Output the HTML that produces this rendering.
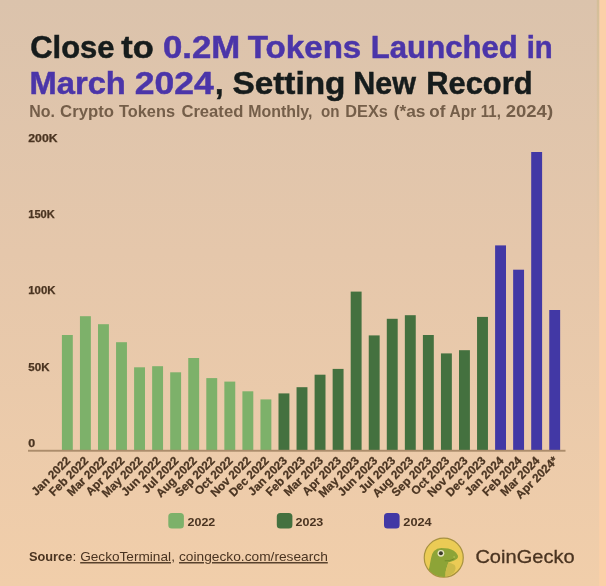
<!DOCTYPE html>
<html><head><meta charset="utf-8"><title>Tokens Launched</title>
<style>
html,body{margin:0;padding:0;}
body{width:606px;height:586px;overflow:hidden;background:#fbd0a8;font-family:"Liberation Sans",sans-serif;}
svg{display:block;font-family:"Liberation Sans",sans-serif;}
.t{font-weight:700;font-size:31.8px;fill:#161c1c;stroke:#161c1c;stroke-width:0.5px;}
.t.p{fill:#4b35a9;stroke:#4b35a9;}
.st{font-weight:700;font-size:16.1px;fill:#745e49;}
.yl{font-weight:700;font-size:10.4px;fill:#4a3421;stroke:#4a3421;stroke-width:0.25px;}
.xl{font-weight:700;font-size:11.7px;fill:#4a3421;stroke:#4a3421;stroke-width:0.25px;}
.lg{font-weight:700;font-size:11.5px;fill:#4a3421;}
.src{font-size:13.6px;fill:#4a3421;}
.cg{font-size:19.2px;fill:#4a3421;stroke:#4a3421;stroke-width:0.3px;}
</style></head><body>
<svg width="606" height="586" viewBox="0 0 606 586">
<defs>
<linearGradient id="bg" x1="0" y1="0" x2="0" y2="1">
<stop offset="0" stop-color="#dbc3ac"/><stop offset="0.43" stop-color="#e5c7ab"/><stop offset="1" stop-color="#f1ceaa"/>
</linearGradient>
<linearGradient id="vl" x1="0" y1="0" x2="0" y2="1"><stop offset="0" stop-color="#d3be97" stop-opacity="0.9"/><stop offset="1" stop-color="#e0c6a0" stop-opacity="0"/></linearGradient>
<clipPath id="cc"><circle cx="443.75" cy="557.3" r="19.2"/></clipPath>
</defs>
<rect x="0" y="0" width="606" height="586" fill="#fbd0a8"/>
<rect x="0" y="0" width="599.2" height="586" fill="url(#bg)"/>
<rect x="596.8" y="0" width="2.4" height="320" fill="url(#vl)"/>
<text x="30.2" y="58.4" class="t" textLength="84.4" lengthAdjust="spacingAndGlyphs">Close</text>
<text x="121.3" y="58.4" class="t" textLength="32.5" lengthAdjust="spacingAndGlyphs">to</text>
<text x="163.0" y="58.4" class="t p" textLength="77.3" lengthAdjust="spacingAndGlyphs">0.2M</text>
<text x="247.8" y="58.4" class="t p" textLength="113.5" lengthAdjust="spacingAndGlyphs">Tokens</text>
<text x="370.8" y="58.4" class="t p" textLength="147.0" lengthAdjust="spacingAndGlyphs">Launched</text>
<text x="526.7" y="58.4" class="t p" textLength="26.0" lengthAdjust="spacingAndGlyphs">in</text>
<text x="29.6" y="93.7" class="t p" textLength="96.2" lengthAdjust="spacingAndGlyphs">March</text>
<text x="134.7" y="93.7" class="t p" textLength="79.0" lengthAdjust="spacingAndGlyphs">2024</text>
<text x="215.0" y="93.7" class="t" textLength="8.5" lengthAdjust="spacingAndGlyphs">,</text>
<text x="232.4" y="93.7" class="t" textLength="113.1" lengthAdjust="spacingAndGlyphs">Setting</text>
<text x="353.3" y="93.7" class="t" textLength="62.7" lengthAdjust="spacingAndGlyphs">New</text>
<text x="426.3" y="93.7" class="t" textLength="106.2" lengthAdjust="spacingAndGlyphs">Record</text>
<text x="29.3" y="116.6" class="st" textLength="25.7" lengthAdjust="spacingAndGlyphs">No.</text>
<text x="60.1" y="116.6" class="st" textLength="53.9" lengthAdjust="spacingAndGlyphs">Crypto</text>
<text x="119.0" y="116.6" class="st" textLength="56.0" lengthAdjust="spacingAndGlyphs">Tokens</text>
<text x="181.4" y="116.6" class="st" textLength="61.9" lengthAdjust="spacingAndGlyphs">Created</text>
<text x="248.2" y="116.6" class="st" textLength="64.3" lengthAdjust="spacingAndGlyphs">Monthly,</text>
<text x="321.0" y="116.6" class="st" textLength="18.5" lengthAdjust="spacingAndGlyphs">on</text>
<text x="345.3" y="116.6" class="st" textLength="42.6" lengthAdjust="spacingAndGlyphs">DEXs</text>
<text x="393.7" y="116.6" class="st" textLength="31.8" lengthAdjust="spacingAndGlyphs">(*as</text>
<text x="429.3" y="116.6" class="st" textLength="16.1" lengthAdjust="spacingAndGlyphs">of</text>
<text x="449.5" y="116.6" class="st" textLength="26.7" lengthAdjust="spacingAndGlyphs">Apr</text>
<text x="480.8" y="116.6" class="st" textLength="20.0" lengthAdjust="spacingAndGlyphs">11,</text>
<text x="505.7" y="116.6" class="st" textLength="47.4" lengthAdjust="spacingAndGlyphs">2024)</text>
<text x="28.3" y="141.9" class="yl" textLength="29.2" lengthAdjust="spacingAndGlyphs">200K</text>
<text x="28.3" y="218.1" class="yl" textLength="26.5" lengthAdjust="spacingAndGlyphs">150K</text>
<text x="28.3" y="294.3" class="yl" textLength="27.2" lengthAdjust="spacingAndGlyphs">100K</text>
<text x="28.3" y="370.5" class="yl" textLength="21.2" lengthAdjust="spacingAndGlyphs">50K</text>
<text x="28.3" y="446.7" class="yl" textLength="6.9" lengthAdjust="spacingAndGlyphs">0</text>
<rect x="61.90" y="335.0" width="10.9" height="115.5" fill="#7db16a"/>
<rect x="79.95" y="316.2" width="10.9" height="134.3" fill="#7db16a"/>
<rect x="98.00" y="324.2" width="10.9" height="126.3" fill="#7db16a"/>
<rect x="116.05" y="342.2" width="10.9" height="108.3" fill="#7db16a"/>
<rect x="134.10" y="367.3" width="10.9" height="83.2" fill="#7db16a"/>
<rect x="152.15" y="366.2" width="10.9" height="84.3" fill="#7db16a"/>
<rect x="170.20" y="372.3" width="10.9" height="78.2" fill="#7db16a"/>
<rect x="188.25" y="358.0" width="10.9" height="92.5" fill="#7db16a"/>
<rect x="206.30" y="378.1" width="10.9" height="72.4" fill="#7db16a"/>
<rect x="224.35" y="381.6" width="10.9" height="68.9" fill="#7db16a"/>
<rect x="242.40" y="391.3" width="10.9" height="59.2" fill="#7db16a"/>
<rect x="260.45" y="399.4" width="10.9" height="51.1" fill="#7db16a"/>
<rect x="278.50" y="393.4" width="10.9" height="57.1" fill="#44713f"/>
<rect x="296.55" y="387.2" width="10.9" height="63.3" fill="#44713f"/>
<rect x="314.60" y="374.7" width="10.9" height="75.8" fill="#44713f"/>
<rect x="332.65" y="368.9" width="10.9" height="81.6" fill="#44713f"/>
<rect x="350.70" y="291.6" width="10.9" height="158.9" fill="#44713f"/>
<rect x="368.75" y="335.4" width="10.9" height="115.1" fill="#44713f"/>
<rect x="386.80" y="318.8" width="10.9" height="131.7" fill="#44713f"/>
<rect x="404.85" y="315.2" width="10.9" height="135.3" fill="#44713f"/>
<rect x="422.90" y="335.0" width="10.9" height="115.5" fill="#44713f"/>
<rect x="440.95" y="353.4" width="10.9" height="97.1" fill="#44713f"/>
<rect x="459.00" y="350.2" width="10.9" height="100.3" fill="#44713f"/>
<rect x="477.05" y="316.9" width="10.9" height="133.6" fill="#44713f"/>
<rect x="495.10" y="245.4" width="10.9" height="205.1" fill="#4238a5"/>
<rect x="513.15" y="269.7" width="10.9" height="180.8" fill="#4238a5"/>
<rect x="531.20" y="152.0" width="10.9" height="298.5" fill="#4238a5"/>
<rect x="549.25" y="310.0" width="10.9" height="140.5" fill="#4238a5"/>
<rect x="28" y="449.8" width="537.5" height="1.9" fill="#ac8c6b"/>
<text transform="translate(71.15,461.30) rotate(-45)" text-anchor="end" class="xl">Jan 2022</text>
<text transform="translate(89.20,461.30) rotate(-45)" text-anchor="end" class="xl">Feb 2022</text>
<text transform="translate(107.25,461.30) rotate(-45)" text-anchor="end" class="xl">Mar 2022</text>
<text transform="translate(125.30,461.30) rotate(-45)" text-anchor="end" class="xl">Apr 2022</text>
<text transform="translate(143.35,461.30) rotate(-45)" text-anchor="end" class="xl">May 2022</text>
<text transform="translate(161.40,461.30) rotate(-45)" text-anchor="end" class="xl">Jun 2022</text>
<text transform="translate(179.45,461.30) rotate(-45)" text-anchor="end" class="xl">Jul 2022</text>
<text transform="translate(197.50,461.30) rotate(-45)" text-anchor="end" class="xl">Aug 2022</text>
<text transform="translate(215.55,461.30) rotate(-45)" text-anchor="end" class="xl">Sep 2022</text>
<text transform="translate(233.60,461.30) rotate(-45)" text-anchor="end" class="xl">Oct 2022</text>
<text transform="translate(251.65,461.30) rotate(-45)" text-anchor="end" class="xl">Nov 2022</text>
<text transform="translate(269.70,461.30) rotate(-45)" text-anchor="end" class="xl">Dec 2022</text>
<text transform="translate(287.75,461.30) rotate(-45)" text-anchor="end" class="xl">Jan 2023</text>
<text transform="translate(305.80,461.30) rotate(-45)" text-anchor="end" class="xl">Feb 2023</text>
<text transform="translate(323.85,461.30) rotate(-45)" text-anchor="end" class="xl">Mar 2023</text>
<text transform="translate(341.90,461.30) rotate(-45)" text-anchor="end" class="xl">Apr 2023</text>
<text transform="translate(359.95,461.30) rotate(-45)" text-anchor="end" class="xl">May 2023</text>
<text transform="translate(378.00,461.30) rotate(-45)" text-anchor="end" class="xl">Jun 2023</text>
<text transform="translate(396.05,461.30) rotate(-45)" text-anchor="end" class="xl">Jul 2023</text>
<text transform="translate(414.10,461.30) rotate(-45)" text-anchor="end" class="xl">Aug 2023</text>
<text transform="translate(432.15,461.30) rotate(-45)" text-anchor="end" class="xl">Sep 2023</text>
<text transform="translate(450.20,461.30) rotate(-45)" text-anchor="end" class="xl">Oct 2023</text>
<text transform="translate(468.25,461.30) rotate(-45)" text-anchor="end" class="xl">Nov 2023</text>
<text transform="translate(486.30,461.30) rotate(-45)" text-anchor="end" class="xl">Dec 2023</text>
<text transform="translate(504.35,461.30) rotate(-45)" text-anchor="end" class="xl">Jan 2024</text>
<text transform="translate(522.40,461.30) rotate(-45)" text-anchor="end" class="xl">Feb 2024</text>
<text transform="translate(540.45,461.30) rotate(-45)" text-anchor="end" class="xl">Mar 2024</text>
<text transform="translate(558.50,461.30) rotate(-45)" text-anchor="end" class="xl">Apr 2024*</text>
<rect x="168.3" y="512.9" width="15.6" height="15.6" rx="3.5" fill="#7db16a"/><text x="187.5" y="526.1" class="lg" textLength="27.8" lengthAdjust="spacingAndGlyphs">2022</text>
<rect x="276.8" y="512.9" width="15.6" height="15.6" rx="3.5" fill="#44713f"/><text x="295.5" y="526.1" class="lg" textLength="27.8" lengthAdjust="spacingAndGlyphs">2023</text>
<rect x="384" y="512.9" width="15.6" height="15.6" rx="3.5" fill="#4238a5"/><text x="403.3" y="526.1" class="lg" textLength="28.4" lengthAdjust="spacingAndGlyphs">2024</text>
<text x="29" y="561.1" class="src" font-weight="700" textLength="43.3" lengthAdjust="spacingAndGlyphs">Source</text>
<text x="72.5" y="561.1" class="src">:</text>
<text x="80.2" y="561.1" class="src" text-decoration="underline" textLength="90.8" lengthAdjust="spacingAndGlyphs">GeckoTerminal</text>
<text x="171.2" y="561.1" class="src">,</text>
<text x="179" y="561.1" class="src" text-decoration="underline" textLength="148.8" lengthAdjust="spacingAndGlyphs">coingecko.com/research</text>
<g id="logo" transform="translate(0,0.4)">
<circle cx="443.75" cy="557.3" r="19.5" fill="#ebcb55" stroke="#a8923f" stroke-width="1.2"/>
<g clip-path="url(#cc)">
<path d="M428.5 571 L429.8 564.4 L431.1 557.6 Q431.8 553 434 550.5 Q437 547.8 441.3 547.7 L448.2 548.1 Q451.5 548.8 453.8 550.4 Q456.5 552.3 457.6 554.5 Q458.6 556.6 457 558.4 Q454.5 560.6 450.7 561.4 L448.2 562 Q447.8 564.5 446.6 567.5 Q445.3 571 445.6 574.7 L444.7 578 L428 578 Z" fill="#8da437"/>
<path d="M448.2 562 Q452 562.6 454.6 564.5 Q456.8 568 454 572 Q450.5 575.6 445.6 576.4 Q445.2 571 446.6 567.5 Q447.8 564.5 448.2 562 Z" fill="#ccba4a"/>
</g>
<path d="M444.7 560.4 Q449.5 561.2 454.3 558.4" fill="none" stroke="#6f8a28" stroke-width="0.9"/>
<circle cx="454.1" cy="556.6" r="0.8" fill="#b9c95a"/>
<circle cx="440.9" cy="552.9" r="3.4" fill="#e6e3c0"/>
<circle cx="440.9" cy="552.9" r="2" fill="#3a3a28"/>
</g>
<text x="475.4" y="562.8" class="cg" textLength="99.2" lengthAdjust="spacingAndGlyphs">CoinGecko</text>
</svg>
</body></html>
